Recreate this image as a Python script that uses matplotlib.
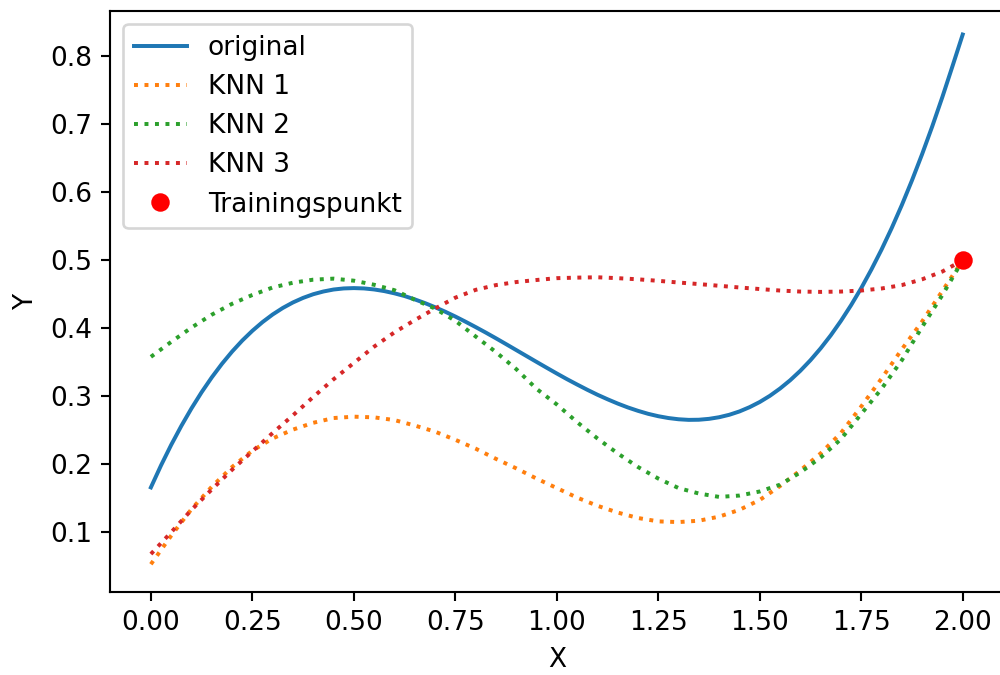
import numpy as np
import matplotlib
matplotlib.use("Agg")
import matplotlib.pyplot as plt

x = np.round(np.arange(41) * 0.05, 3)
x_orig = np.round(np.arange(81) * 0.025, 3)

original = [0.1660, 0.1984, 0.2285, 0.2564, 0.2822, 0.3060, 0.3278, 0.3477, 0.3657, 0.3819,
            0.3963, 0.4091, 0.4203, 0.4299, 0.4380, 0.4447, 0.4501, 0.4541, 0.4570, 0.4586,
            0.4591, 0.4586, 0.4571, 0.4547, 0.4514, 0.4474, 0.4425, 0.4371, 0.4310, 0.4244,
            0.4173, 0.4097, 0.4018, 0.3937, 0.3853, 0.3767, 0.3680, 0.3593, 0.3506, 0.3420,
            0.3335, 0.3252, 0.3173, 0.3096, 0.3023, 0.2956, 0.2893, 0.2836, 0.2786, 0.2742,
            0.2707, 0.2680, 0.2662, 0.2653, 0.2655, 0.2668, 0.2692, 0.2728, 0.2777, 0.2840,
            0.2916, 0.3007, 0.3114, 0.3236, 0.3375, 0.3531, 0.3705, 0.3897, 0.4109, 0.4340,
            0.4591, 0.4864, 0.5157, 0.5473, 0.5812, 0.6175, 0.6561, 0.6970, 0.7403, 0.7858,
            0.8320]

knn1 = [0.053, 0.095, 0.134, 0.167, 0.196, 0.220, 0.238, 0.251, 0.261, 0.268,
        0.270, 0.269, 0.265, 0.257, 0.248, 0.236, 0.223, 0.208, 0.194, 0.179,
        0.165, 0.151, 0.139, 0.129, 0.121, 0.116, 0.115, 0.117, 0.123, 0.133,
        0.1475, 0.168, 0.191, 0.216, 0.246, 0.285, 0.326, 0.369, 0.410, 0.455,
        0.500]

knn2 = [0.358, 0.380, 0.401, 0.420, 0.436, 0.449, 0.460, 0.467, 0.4715, 0.473,
        0.470, 0.464, 0.456, 0.442, 0.429, 0.411, 0.388, 0.365, 0.340, 0.311,
        0.288, 0.262, 0.238, 0.216, 0.196, 0.179, 0.165, 0.157, 0.152, 0.154,
        0.160, 0.170, 0.188, 0.210, 0.237, 0.274, 0.311, 0.353, 0.402, 0.449,
        0.500]

knn3 = [0.068, 0.100, 0.133, 0.163, 0.192, 0.219, 0.246, 0.272, 0.299, 0.325,
        0.349, 0.373, 0.394, 0.412, 0.429, 0.445, 0.4565, 0.4635, 0.468, 0.471,
        0.4737, 0.4745, 0.475, 0.4737, 0.472, 0.4698, 0.4673, 0.465, 0.4625, 0.460,
        0.4577, 0.4555, 0.454, 0.4535, 0.454, 0.4555, 0.4585, 0.4635, 0.472, 0.4835,
        0.500]

train_x = [2.0]
train_y = [0.5]

DPI = 190
fig = plt.figure(figsize=(1000 / DPI, 675 / DPI), dpi=DPI)
ax = fig.add_axes([0.1103, 0.123, 0.893, 0.8607])

ax.plot(x_orig, original, label="original")
ax.plot(x, knn1, ":", label="KNN 1")
ax.plot(x, knn2, ":", label="KNN 2")
ax.plot(x, knn3, ":", label="KNN 3")
ax.plot(train_x, train_y, "o", color="red", label="Trainingspunkt")

ax.set_xlim(-0.1, 2.1)
ax.set_ylim(0.0122, 0.8666)
ax.set_xlabel("X")
ax.set_ylabel("Y")
ax.legend(loc="upper left")

fig.savefig("out.png", dpi=DPI)
